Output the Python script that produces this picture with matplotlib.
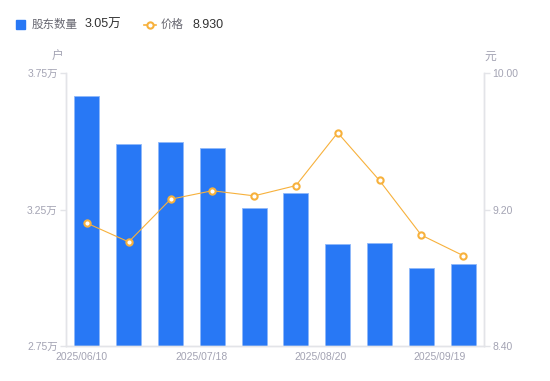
import numpy as np
import matplotlib
matplotlib.use("Agg")
import matplotlib.pyplot as plt
from matplotlib.lines import Line2D
from matplotlib.patches import Rectangle

plt.rcParams['font.family'] = ['Liberation Sans', 'Noto Sans CJK SC', 'DejaVu Sans']

dates = ["2025/06/10", "2025/06/20", "2025/06/30", "2025/07/18", "2025/07/31",
         "2025/08/10", "2025/08/20", "2025/08/31", "2025/09/10", "2025/09/19"]
holders = [3.666, 3.490, 3.496, 3.474, 3.255, 3.309, 3.123, 3.127, 3.036, 3.05]  # 万户
price = [9.12, 9.01, 9.26, 9.31, 9.28, 9.34, 9.65, 9.37, 9.05, 8.93]
shown_labels = ["2025/06/10", "2025/07/18", "2025/08/20", "2025/09/19"]

BLUE = "#2878f5"
ORANGE = "#f7b13c"
AXIS = "#e3e4e8"
TXT = "#a3a3b3"

fig = plt.figure(figsize=(5.5, 3.81), dpi=100)
ax = fig.add_axes([66 / 550, 1 - 346 / 381, 418 / 550, 273 / 381])
ax2 = ax.twinx()

x = np.arange(len(dates))
ax.bar(x, holders, width=0.6, color=BLUE, edgecolor="#8fb8fa", linewidth=0.6, zorder=2)
ax.set_xlim(-0.5, len(dates) - 0.5)
ax.set_ylim(2.75, 3.75)
ax.set_yticks([2.75, 3.25, 3.75])
ax.set_yticklabels(["2.75万", "3.25万", "3.75万"])

ax2.plot(x, price, color=ORANGE, linewidth=0.8, marker="o", markersize=4.5,
         markerfacecolor="white", markeredgecolor=ORANGE, markeredgewidth=1.5, zorder=3)
ax2.set_ylim(8.40, 10.00)
ax2.set_yticks([8.40, 9.20, 10.00])
ax2.set_yticklabels(["8.40", "9.20", "10.00"])

# x labels are spread evenly, not exactly under bars
ax.set_xticks(np.linspace(-0.12, 8.45, 4))
ax.set_xticklabels(shown_labels)

for a in (ax, ax2):
    a.spines["top"].set_visible(False)
    for side in ("left", "right", "bottom"):
        a.spines[side].set_color(AXIS)
        a.spines[side].set_linewidth(1)
    a.tick_params(axis="y", colors=AXIS, labelcolor=TXT, labelsize=7.5, length=4, width=1, pad=2)
    a.tick_params(axis="x", colors=AXIS, labelcolor=TXT, labelsize=7.5, length=0, pad=4)

fig.text(57 / 550, 1 - 57 / 381, "户", fontsize=8.5, color=TXT, ha="center", va="center")
fig.text(490 / 550, 1 - 57 / 381, "元", fontsize=8.5, color=TXT, ha="center", va="center")

# legend
fig.patches.append(Rectangle((16 / 550, 1 - 29 / 381), 9 / 550, 9 / 381,
                             transform=fig.transFigure, color=BLUE, figure=fig))
fig.text(32 / 550, 1 - 24.5 / 381, "股东数量", fontsize=8.3, color="#666670", va="center")
fig.text(85 / 550, 1 - 24.5 / 381, "3.05万", fontsize=9, color="#333333", va="center")
fig.lines.append(Line2D([144 / 550, 156 / 550], [1 - 24.5 / 381] * 2, transform=fig.transFigure,
                        color=ORANGE, linewidth=1.2))
fig.lines.append(Line2D([150 / 550], [1 - 24.5 / 381], transform=fig.transFigure,
                        color=ORANGE, marker="o", markersize=4.5, markerfacecolor="white",
                        markeredgewidth=1.5, linestyle="none"))
fig.text(161 / 550, 1 - 24.5 / 381, "价格", fontsize=8.3, color="#666670", va="center")
fig.text(192 / 550, 1 - 24.5 / 381, "8.930", fontsize=9, color="#333333", va="center")

fig.savefig("out.png", dpi=100)
